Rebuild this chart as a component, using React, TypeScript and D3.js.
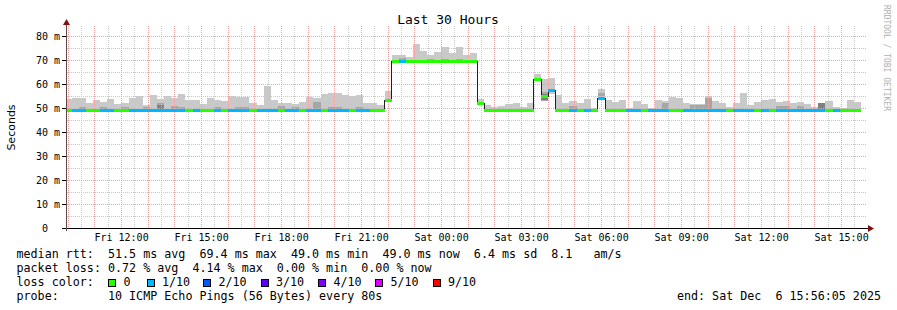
import React from "react";
import * as d3 from "d3";

// ---- time frame ----
const START = new Date(2025, 11, 5, 9, 56, 5);
const END = new Date(2025, 11, 6, 15, 56, 5);
const FIRST_BOUNDARY = new Date(2025, 11, 5, 10, 8, 50);
const STEP_MINUTES = 16;

// ---- series (ms), one entry per 16-minute bucket ----
const MEDIAN = [
  49.0, 49.0, 49.0, 49.0, 49.0, 49.0, 49.0, 49.0, 49.0, 49.0,
  49.0, 49.0, 49.0, 49.0, 49.0, 49.0, 49.0, 49.0, 49.0, 49.0,
  49.0, 49.0, 49.0, 49.0, 49.0, 49.0, 49.0, 49.0, 49.0, 49.0,
  49.0, 49.0, 49.0, 49.0, 49.0, 49.0, 49.0, 49.0, 49.0, 49.0,
  49.0, 49.0, 49.0, 49.0, 49.0, 53.3, 69.4, 69.4, 69.4, 69.4,
  69.4, 69.4, 69.4, 69.4, 69.4, 69.4, 69.4, 69.4, 51.9, 49.0,
  49.0, 49.0, 49.0, 49.0, 49.0, 49.0, 61.7, 55.0, 57.5, 49.0,
  49.0, 49.0, 49.0, 49.0, 49.0, 54.0, 49.0, 49.0, 49.0, 49.0,
  49.0, 49.0, 49.0, 49.0, 49.0, 49.0, 49.0, 49.0, 49.0, 49.0,
  49.0, 49.0, 49.0, 49.0, 49.0, 49.0, 49.0, 49.0, 49.0, 49.0,
  49.0, 49.0, 49.0, 49.0, 49.0, 49.0, 49.0, 49.0, 49.0, 49.0,
  49.0, 49.0,
];

// packet loss per bucket, in tenths (0 = none, 1 = 1/10)
const LOSS = [
  0, 1, 1, 0, 0, 1, 1, 0, 0, 1,
  1, 1, 1, 1, 1, 1, 1, 0, 1, 0,
  0, 1, 0, 1, 1, 1, 0, 1, 1, 1,
  0, 1, 1, 0, 1, 1, 0, 1, 1, 1,
  0, 1, 1, 0, 0, 0, 0, 1, 0, 0,
  0, 0, 0, 0, 0, 0, 0, 0, 0, 0,
  0, 0, 0, 0, 0, 0, 0, 0, 1, 0,
  0, 1, 0, 1, 0, 1, 0, 0, 0, 1,
  1, 0, 1, 1, 1, 0, 0, 1, 1, 1,
  1, 1, 1, 0, 1, 1, 1, 0, 1, 0,
  1, 1, 1, 1, 1, 1, 1, 0, 1, 0,
  0, 0,
];

// highest ping of each bucket (top of the smoke)
const SMOKE_TOP = [
  53.6, 54.3, 54.3, 52.0, 53.3, 52.5, 53.8, 51.7, 52.2, 54.3,
  55.0, 51.1, 55.3, 53.9, 55.0, 54.2, 55.7, 53.3, 53.3, 51.5,
  54.2, 53.3, 52.9, 54.9, 54.6, 54.6, 52.2, 51.3, 59.2, 53.3,
  52.1, 52.0, 51.5, 52.4, 54.7, 54.0, 55.7, 56.1, 56.1, 55.4,
  55.0, 55.4, 52.2, 52.2, 51.3, 57.2, 72.1, 72.1, 71.1, 76.7,
  73.8, 72.1, 73.3, 75.3, 72.8, 75.3, 72.1, 72.8, 53.75, 51.3,
  50.5, 50.8, 51.5, 52.0, 50.5, 52.2, 64.2, 62.0, 62.4, 55.4,
  52.2, 53.0, 52.2, 53.6, 49.8, 57.8, 53.3, 52.4, 53.3, 50.1,
  52.9, 51.7, 50.1, 53.3, 52.9, 54.7, 54.2, 52.2, 51.7, 51.5,
  55.0, 53.0, 52.2, 50.3, 52.2, 56.3, 51.1, 52.6, 53.3, 53.8,
  52.6, 53.0, 52.2, 52.6, 51.7, 50.3, 51.9, 52.9, 50.3, 49.9,
  53.3, 52.6,
];

// lowest ping where it is clearly below the median: [bucket, ms]
const SMOKE_LOW = [
  [45, 53.0],
  [58, 51.6],
  [66, 61.3],
  [67, 52.8],
  [68, 56.0],
  [75, 53.5],
];

// inner ping pairs (second smoke shade): [bucket, low ms, high ms]
const INNER_SMOKE = [
  [2, 49.2, 50.6], [5, 49.2, 50.5], [8, 49.2, 50.5], [11, 49.2, 50.5],
  [13, 49.2, 52.2], [15, 49.2, 50.8], [16, 49.2, 50.5], [21, 49.2, 50.3],
  [24, 49.2, 50.5], [25, 49.2, 50.5], [30, 49.2, 50.9], [32, 49.2, 50.5],
  [35, 49.2, 52.4], [37, 49.2, 50.6], [38, 49.2, 50.6], [41, 49.2, 50.5],
  [47, 69.5, 70.8], [51, 69.5, 70.5], [53, 69.5, 70.5], [55, 69.5, 70.4],
  [67, 53.0, 56.8], [71, 49.2, 51.0], [75, 55.0, 56.1], [84, 49.2, 52.2],
  [88, 49.2, 51.2], [89, 49.2, 51.2], [90, 49.2, 54.0], [100, 49.2, 51.0],
  [101, 49.2, 50.8], [103, 49.2, 51.0],
];

// innermost shade: [bucket, low ms, high ms]
const CORE_SMOKE = [
  [13, 49.2, 51.4], [67, 53.5, 55.8], [106, 49.2, 51.9],
];

// ---- axes & legend text ----
const Y_TICKS = [0, 10, 20, 30, 40, 50, 60, 70, 80];
const Y_TICK_LABELS = ["0  ", "10 m", "20 m", "30 m", "40 m", "50 m", "60 m", "70 m", "80 m"];
const Y_MINOR = [5, 15, 25, 35, 45, 55, 65, 75];

const LOSS_LABELS = ["0", "1/10", "2/10", "3/10", "4/10", "5/10", "9/10"];
const LOSS_TENTHS = [0, 1, 2, 3, 4, 5, 9];
const LOSS_COLORS = ["#26ff00", "#00b8ff", "#0059ff", "#5e00ff", "#7e00ff", "#dd00ff", "#ff0000"];

const TITLE = "Last 30 Hours";
const Y_TITLE = "Seconds";
const WATERMARK = "RRDTOOL / TOBI OETIKER";
const LEGEND_LINES = [
  "median rtt:  51.5 ms avg  69.4 ms max  49.0 ms min  49.0 ms now  6.4 ms sd  8.1   am/s",
  "packet loss: 0.72 % avg  4.14 % max  0.00 % min  0.00 % now",
  "loss color:",
  "probe:       10 ICMP Echo Pings (56 Bytes) every 80s",
];
const END_LABEL = "end: Sat Dec  6 15:56:05 2025";

const MONO = "'DejaVu Sans Mono', monospace";

export default function App() {
  const W = 897;
  const H = 310;
  const x = d3.scaleTime().domain([START, END]).range([66, 866]);
  const y = d3.scaleLinear().domain([0, 80]).range([228, 36]);
  const plotTop = 26;

  const bars = MEDIAN.map((m, i) => {
    const t0 = i === 0 ? START : d3.timeMinute.offset(FIRST_BOUNDARY, (i - 1) * STEP_MINUTES);
    const t1 = d3.timeMinute.offset(FIRST_BOUNDARY, i * STEP_MINUTES);
    const low = SMOKE_LOW.find((d) => d[0] === i);
    return {
      i,
      x0: Math.max(x(t0), 66),
      x1: Math.min(x(t1), 866),
      med: m,
      loss: LOSS[i],
      top: SMOKE_TOP[i],
      lo: low ? low[1] : m - 0.3,
    };
  });

  const hourLines = d3.timeHour.range(START, END).map((t) => x(t)).filter((v) => v > 67);
  const halfLines = d3.timeMinute
    .every(30)!
    .range(START, END)
    .filter((t) => t.getMinutes() === 30)
    .map((t) => x(t))
    .filter((v) => v > 67);
  const labelTimes = d3.timeHour.every(3)!.range(START, END);
  const fmt = d3.timeFormat("%a %H:%M");

  const pts: [number, number][] = bars.map((b) => [b.x0, y(b.med)]);
  const last = bars[bars.length - 1];
  pts.push([last.x1, y(last.med)]);
  const medianPath = d3.line().curve(d3.curveStepAfter)(pts) || "";

  const colorOf = (tenths: number) => {
    const idx = LOSS_TENTHS.indexOf(tenths);
    return LOSS_COLORS[idx >= 0 ? idx : 0];
  };

  const legendSquareX = [108.5, 147, 203.5, 261, 318.5, 375.5, 433];

  return (
    <svg width={W} height={H} viewBox={`0 0 ${W} ${H}`} style={{ display: "block", position: "absolute", left: 0, top: 0, background: "#fff" }}>
      <rect x={0} y={0} width={W} height={H} fill="#ffffff" />
      {/* smoke */}
      <g shapeRendering="crispEdges">
        {bars.map((b) => (
          <rect key={"s" + b.i} x={b.x0} y={y(b.top)} width={b.x1 - b.x0} height={y(b.lo) - y(b.top)} fill="#c9c9c9" />
        ))}
        {INNER_SMOKE.map(([k, lo, hi]) => {
          const b = bars[k];
          return <rect key={"in" + k} x={b.x0} y={y(hi)} width={b.x1 - b.x0} height={y(lo) - y(hi)} fill="#a6a6a6" />;
        })}
        {CORE_SMOKE.map(([k, lo, hi]) => {
          const b = bars[k];
          return <rect key={"co" + k} x={b.x0} y={y(hi)} width={b.x1 - b.x0} height={y(lo) - y(hi)} fill="#808080" />;
        })}
      </g>
      {/* grid */}
      <g shapeRendering="crispEdges" strokeWidth={1} strokeDasharray="1,1">
        {Y_MINOR.map((v) => (
          <line key={"ym" + v} x1={67} x2={866} y1={Math.round(y(v)) + 0.5} y2={Math.round(y(v)) + 0.5} stroke="#c8c8c8" />
        ))}
        {halfLines.map((v, i) => (
          <line key={"xm" + i} x1={Math.round(v) + 0.5} x2={Math.round(v) + 0.5} y1={plotTop} y2={228} stroke="#c8c8c8" />
        ))}
        {hourLines.map((v, i) => (
          <line key={"xM" + i} x1={Math.round(v) + 0.5} x2={Math.round(v) + 0.5} y1={plotTop} y2={228} stroke="#f2a0a0" />
        ))}
        {Y_TICKS.filter((v) => v > 0).map((v) => (
          <line key={"yM" + v} x1={67} x2={866} y1={Math.round(y(v)) + 0.5} y2={Math.round(y(v)) + 0.5} stroke="#f2a0a0" />
        ))}
      </g>
      {/* median line */}
      <path d={medianPath} fill="none" stroke="#202020" strokeWidth={1} shapeRendering="crispEdges" />
      <g shapeRendering="crispEdges">
        {bars.map((b) => (
          <rect key={"m" + b.i} x={b.x0} y={y(b.med) - 1.5} width={b.x1 - b.x0} height={3} fill={colorOf(b.loss)} />
        ))}
      </g>
      {/* axes */}
      <g shapeRendering="crispEdges">
        <line x1={62} x2={868} y1={228.5} y2={228.5} stroke="#000" />
        <line x1={66.5} x2={66.5} y1={231} y2={24} stroke="#5a4a4a" />
        {Y_TICKS.map((v) => (
          <line key={"yt" + v} x1={62} x2={66} y1={Math.round(y(v)) + 0.5} y2={Math.round(y(v)) + 0.5} stroke="#000" />
        ))}
      </g>
      <path d="M868,225 L874,228.5 L868,232 Z" fill="#7f1010" />
      <path d="M63,25 L66.5,19 L70,25 Z" fill="#7f1010" />
      {/* y labels */}
      <g fontFamily={MONO} fontSize={10} fill="#000">
        {Y_TICKS.map((v, i) => (
          <text key={"yl" + v} x={60} y={y(v) + 3.5} textAnchor="end" xmlSpace="preserve" style={{ whiteSpace: "pre" }}>
            {Y_TICK_LABELS[i]}
          </text>
        ))}
        {labelTimes.map((t, i) => (
          <text key={"xl" + i} x={x(t) + 0.5} y={241} textAnchor="middle">
            {fmt(t)}
          </text>
        ))}
      </g>
      <text x={448} y={24} textAnchor="middle" fontFamily={MONO} fontSize={13} fill="#000">
        {TITLE}
      </text>
      <text transform="translate(15,127.5) rotate(-90)" textAnchor="middle" fontFamily="'DejaVu Sans', sans-serif" fontSize={11} fill="#000">
        {Y_TITLE}
      </text>
      <text transform="translate(884,5) rotate(90)" fontFamily={MONO} fontSize={8} fill="#b0b0b0">
        {WATERMARK}
      </text>
      {/* legend */}
      <g fontFamily={MONO} fontSize={11.7} fill="#000" style={{ whiteSpace: "pre" }}>
        {LEGEND_LINES.map((s, i) => (
          <text key={"lg" + i} x={16.5} y={258 + i * 14} xmlSpace="preserve">
            {s}
          </text>
        ))}
        {LOSS_LABELS.map((lab, i) => (
          <g key={"lc" + i}>
            <rect x={legendSquareX[i]} y={279.5} width={7} height={7} fill={LOSS_COLORS[i]} stroke="#000" strokeWidth={1} shapeRendering="crispEdges" />
            <text x={legendSquareX[i] + 15} y={286}>{lab}</text>
          </g>
        ))}
        <text x={881} y={300} textAnchor="end" xmlSpace="preserve">
          {END_LABEL}
        </text>
      </g>
    </svg>
  );
}
